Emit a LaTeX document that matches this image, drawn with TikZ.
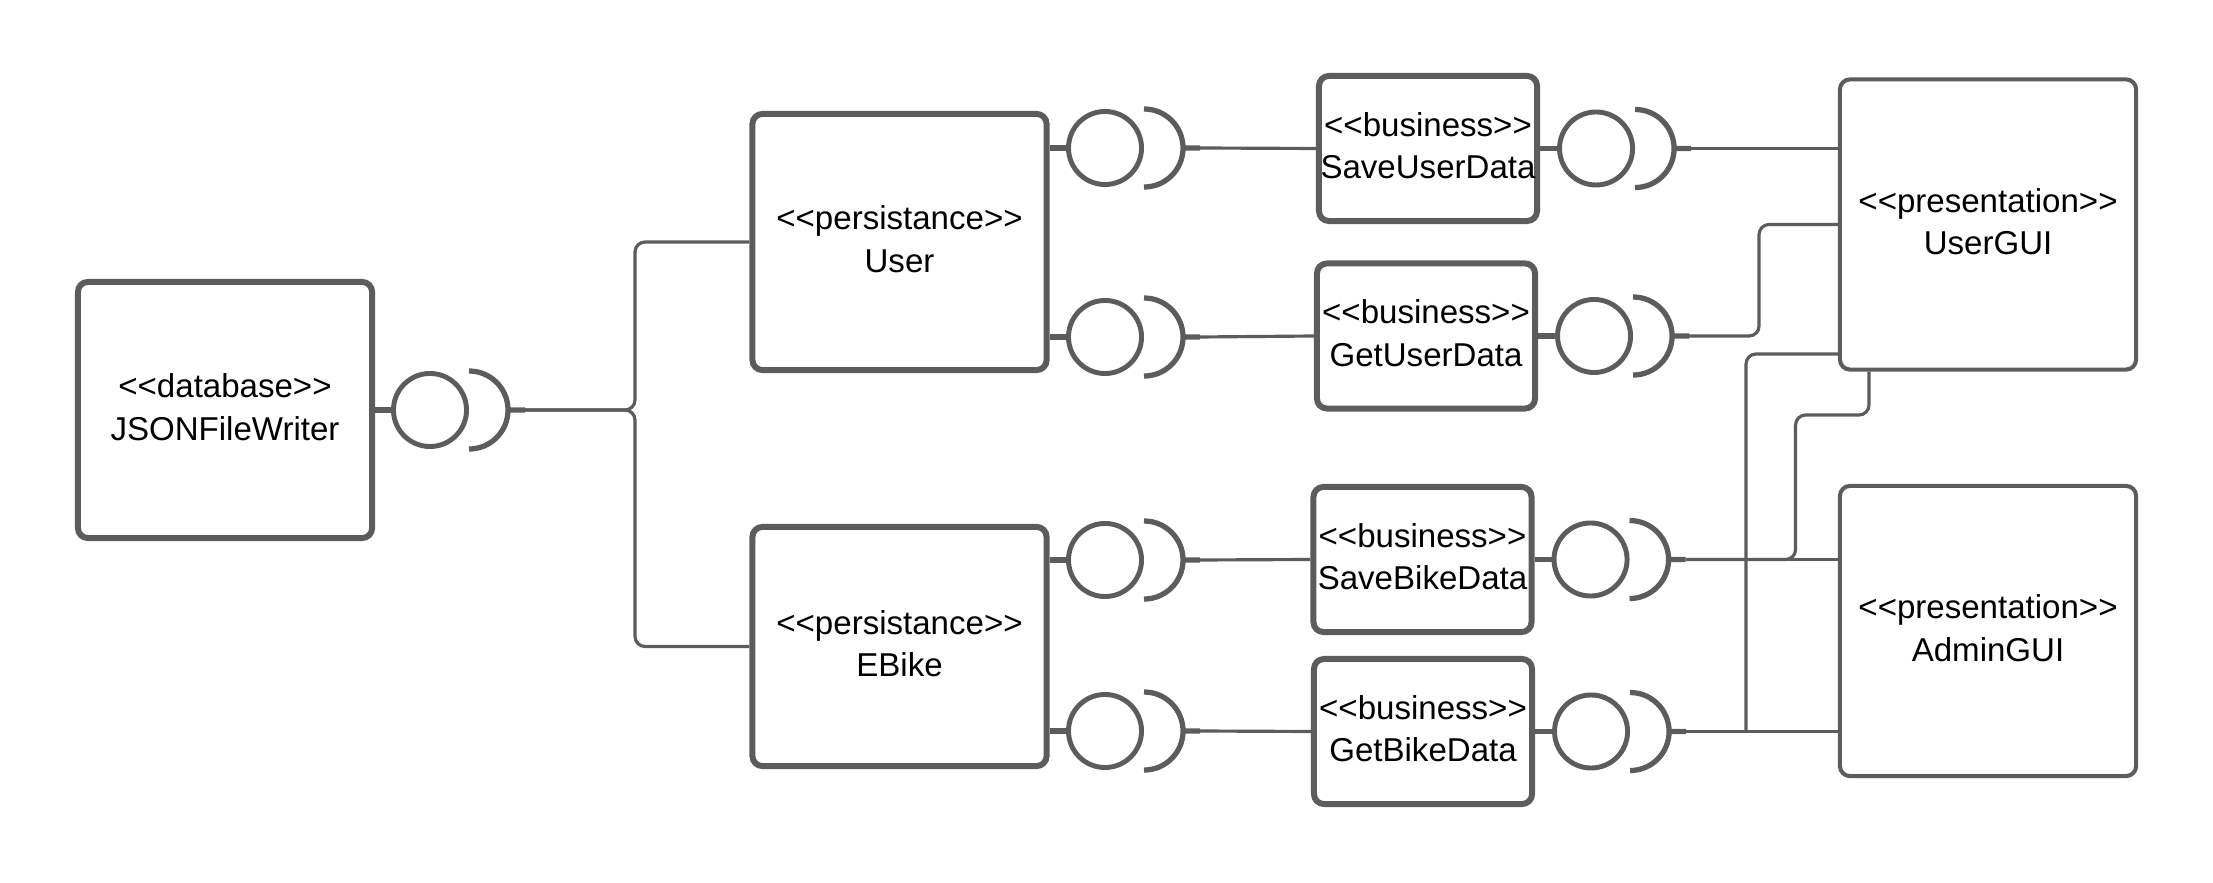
\documentclass[tikz,border=0pt]{standalone}
\usepackage{fontspec}
\setmainfont{Liberation Sans}[Ligatures=TeXOff]
\usepackage{tikz}
\usetikzlibrary{positioning,calc}
\definecolor{umlgray}{HTML}{5C5C5C}

\begin{document}
\begin{tikzpicture}[
        x=0.01cm, y=-0.01cm,
        comp/.style={draw=umlgray, line width=1.7pt, rounded corners=0.1cm, fill=white,
                     minimum width=2.94cm, minimum height=2.56cm, align=center,
                     inner sep=0pt, font=\fontsize{9.4}{12}\selectfont,
                     execute at end node={\rule[-0.06cm]{0pt}{0pt}}},
        gui/.style={comp, line width=1.15pt, minimum width=2.96cm, minimum height=2.90cm},
        biz/.style={comp, minimum width=2.18cm, minimum height=1.45cm},
        iface/.style={draw=umlgray, circle, line width=1.4pt, minimum size=0.73cm, inner sep=0pt},
        socket/.style={draw=umlgray, line width=1.5pt},
        stub/.style={draw=umlgray, line width=1.5pt},
        wire/.style={draw=umlgray, line width=0.9pt, rounded corners=0.1cm}
    ]
    \useasboundingbox (0,0) rectangle (2213,883);

    % ---- Database ----
    \node[comp] (jfw) at (225,410) {<<database>>\\JSONFileWriter};
    \node[iface] (ifDb) at (430,410) {};

    % ---- Persistance ----
    \node[comp] (user) at (899.5,242) {<<persistance>>\\User};
    \node[comp, minimum height=2.39cm] (ebike) at (899.5,646.5) {<<persistance>>\\EBike};
    \node[iface] (ifUserSave) at (1105,148) {};
    \node[iface] (ifUserGet) at (1105,337) {};
    \node[iface] (ifBikeSave) at (1105,560) {};
    \node[iface] (ifBikeGet) at (1105,731) {};

    % ---- Business ----
    \node[biz] (saveuser) at (1428,148.5) {<<business>>\\SaveUserData};
    \node[biz] (getuser) at (1426,336) {<<business>>\\GetUserData};
    \node[biz] (savebike) at (1422.5,559.5) {<<business>>\\SaveBikeData};
    \node[biz] (getbike) at (1423,731.5) {<<business>>\\GetBikeData};
    \node[iface, right=0.17cm of saveuser] (ifSaveUser) {};
    \node[iface, right=0.17cm of getuser] (ifGetUser) {};
    \node[iface, right=0.17cm of savebike] (ifSaveBike) {};
    \node[iface, right=0.17cm of getbike] (ifGetBike) {};

    % ---- Presentation ----
    \node[gui] (usergui) at (1988,224.5) {<<presentation>>\\UserGUI};
    \node[gui] (admingui) at (1988,631) {<<presentation>>\\AdminGUI};

    % Stubs: component -> provided interface
    \draw[stub] (jfw.east) -- (ifDb.west);
    \draw[stub] (ifUserSave.west -| user.east) -- (ifUserSave.west);
    \draw[stub] (ifUserGet.west -| user.east) -- (ifUserGet.west);
    \draw[stub] (ifBikeSave.west -| ebike.east) -- (ifBikeSave.west);
    \draw[stub] (ifBikeGet.west -| ebike.east) -- (ifBikeGet.west);
    \draw[stub] (saveuser.east) -- (ifSaveUser.west);
    \draw[stub] (getuser.east) -- (ifGetUser.west);
    \draw[stub] (savebike.east) -- (ifSaveBike.west);
    \draw[stub] (getbike.east) -- (ifGetBike.west);

    % Sockets (required interface)
    \draw[socket] ($(ifDb)+(39,-39)$) arc[start angle=90, end angle=-90, radius=0.39cm] ($(ifDb)+(78,0)$) -- ++(17,0) coordinate (sDb);
    \draw[socket] ($(ifUserSave)+(39,-39)$) arc[start angle=90, end angle=-90, radius=0.39cm] ($(ifUserSave)+(78,0)$) -- ++(17,0) coordinate (sUserSave);
    \draw[socket] ($(ifUserGet)+(39,-39)$) arc[start angle=90, end angle=-90, radius=0.39cm] ($(ifUserGet)+(78,0)$) -- ++(17,0) coordinate (sUserGet);
    \draw[socket] ($(ifBikeSave)+(39,-39)$) arc[start angle=90, end angle=-90, radius=0.39cm] ($(ifBikeSave)+(78,0)$) -- ++(17,0) coordinate (sBikeSave);
    \draw[socket] ($(ifBikeGet)+(39,-39)$) arc[start angle=90, end angle=-90, radius=0.39cm] ($(ifBikeGet)+(78,0)$) -- ++(17,0) coordinate (sBikeGet);
    \draw[socket] ($(ifSaveUser)+(39,-39)$) arc[start angle=90, end angle=-90, radius=0.39cm] ($(ifSaveUser)+(78,0)$) -- ++(17,0) coordinate (sSaveUser);
    \draw[socket] ($(ifGetUser)+(39,-39)$) arc[start angle=90, end angle=-90, radius=0.39cm] ($(ifGetUser)+(78,0)$) -- ++(17,0) coordinate (sGetUser);
    \draw[socket] ($(ifSaveBike)+(39,-39)$) arc[start angle=90, end angle=-90, radius=0.39cm] ($(ifSaveBike)+(78,0)$) -- ++(17,0) coordinate (sSaveBike);
    \draw[socket] ($(ifGetBike)+(39,-39)$) arc[start angle=90, end angle=-90, radius=0.39cm] ($(ifGetBike)+(78,0)$) -- ++(17,0) coordinate (sGetBike);

    % Wires: database -> persistance
    \draw[wire] (sDb) -- (635,410) |- (user.west);
    \draw[wire] (sDb) -- (635,410) |- (ebike.west);

    % Wires: persistance -> business
    \draw[wire] (sUserSave) -- (saveuser.west);
    \draw[wire] (sUserGet) -- (getuser.west);
    \draw[wire] (sBikeSave) -- (savebike.west);
    \draw[wire] (sBikeGet) -- (getbike.west);

    % Wires: business -> presentation
    \coordinate (guiIn) at (1869,0 |- usergui.south);
    \draw[wire] (sSaveUser) -- (sSaveUser -| usergui.west);
    \draw[wire] (sGetUser) -- ++(70,0) |- (usergui.west);
    \draw[wire] (sSaveBike) -- (sSaveBike -| admingui.west);
    \draw[wire] (sSaveBike) -- ++(110,0) |- (1869,415) -- (guiIn);
    \draw[wire] (sGetBike) -- (sGetBike -| admingui.west);
    \draw[wire] (sGetBike -| 1746,0) -- (1746,354) -- (usergui.west |- 0,354);

\end{tikzpicture}
\end{document}
